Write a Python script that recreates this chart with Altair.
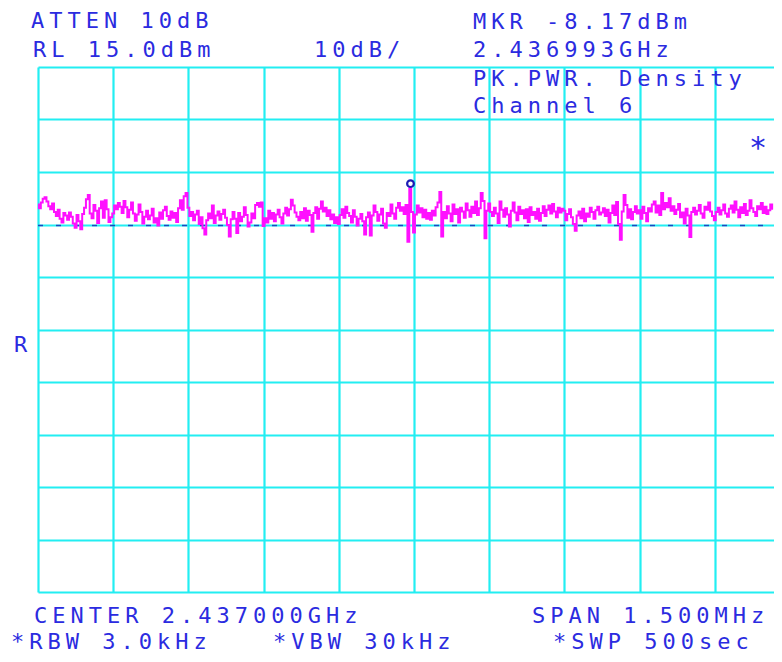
"""Spectrum analyser screen: PK.PWR. Density, channel 6."""

import altair as alt
import pandas as pd

CENTER_MHZ = 2437.0
SPAN_MHZ = 1.5
REF_LEVEL_DBM = 15.0
DB_PER_DIV = 10.0
N_DIV = 10
POINT_STEP_MHZ = 0.00375  # sweep point spacing (40 points per division)

# trace, one list per horizontal division (dBm)
trace_div0 = [-11.2, -11.9, -10.8, -10.1, -9.8, -10.6, -11.5, -12.1, -11.0, -12.6,
              -13.4, -12.2, -13.9, -14.6, -12.8, -13.3, -14.1, -12.7, -13.5, -14.8,
              -15.6, -13.2, -14.4, -15.9, -13.0, -11.8, -10.2, -9.4, -12.9, -13.8,
              -11.3, -12.4, -14.7, -11.9, -10.6, -13.7, -10.4, -12.1, -14.5, -13.6]
trace_div1 = [-12.9, -11.4, -12.1, -10.9, -11.6, -12.8, -10.5, -11.7, -13.6, -12.2,
              -10.8, -12.9, -14.3, -13.1, -11.2, -12.6, -14.8, -13.5, -12.4, -14.0,
              -13.3, -12.0, -14.6, -13.8, -15.2, -12.7, -13.9, -12.3, -11.6, -13.4,
              -14.1, -12.5, -13.7, -12.8, -14.5, -11.9, -10.4, -12.2, -9.6, -9.0]
trace_div2 = [-11.8, -13.4, -12.6, -14.2, -13.1, -12.4, -14.9, -13.6, -15.7, -16.9,
              -14.2, -12.9, -13.8, -11.4, -14.7, -13.3, -12.5, -14.1, -13.0, -12.2,
              -13.7, -15.1, -17.3, -14.0, -12.6, -13.9, -16.6, -12.8, -14.4, -13.5,
              -11.7, -13.2, -15.4, -14.6, -12.9, -13.8, -11.3, -10.9, -11.6, -10.8]
trace_div3 = [-15.3, -13.8, -14.6, -12.4, -13.9, -12.8, -14.4, -13.1, -12.2, -13.6,
              -14.8, -12.9, -11.8, -13.3, -12.1, -10.3, -11.4, -12.7, -13.5, -14.2,
              -12.6, -13.8, -11.9, -14.3, -12.4, -13.2, -16.4, -12.8, -11.7, -13.9,
              -12.0, -10.6, -12.5, -11.8, -13.4, -12.3, -14.0, -13.1, -14.7, -13.6]
trace_div4 = [-14.9, -13.2, -12.1, -13.7, -11.6, -12.8, -13.4, -14.6, -12.3, -13.5,
              -15.2, -13.9, -13.0, -14.4, -16.9, -13.6, -12.7, -17.1, -13.3, -11.4,
              -12.6, -14.3, -13.1, -12.0, -14.8, -15.6, -12.8, -13.4, -11.2, -12.9,
              -13.9, -11.8, -10.9, -12.4, -11.7, -13.0, -11.3, -18.3, -8.17, -12.6]
trace_div5 = [-16.5, -13.1, -11.4, -12.7, -11.9, -13.6, -12.2, -13.9, -12.8, -14.1,
              -12.4, -13.3, -11.7, -10.8, -8.8, -17.3, -12.6, -13.8, -11.5, -12.9,
              -14.4, -11.2, -13.0, -12.1, -14.6, -11.8, -12.5, -13.7, -11.0, -12.3,
              -13.5, -11.6, -12.8, -10.6, -13.2, -11.9, -9.0, -10.5, -17.6, -12.4]
trace_div6 = [-11.0, -12.6, -13.4, -11.8, -12.9, -14.7, -10.6, -12.2, -13.5, -11.9,
              -13.1, -15.4, -12.4, -10.8, -12.7, -14.2, -11.6, -13.0, -12.3, -13.8,
              -12.1, -14.5, -11.7, -13.2, -12.6, -13.9, -12.0, -14.3, -12.8, -11.5,
              -13.4, -12.2, -11.4, -12.9, -11.1, -12.5, -13.6, -11.8, -12.7, -12.0]
trace_div7 = [-12.4, -14.2, -13.0, -12.1, -13.6, -14.9, -16.2, -13.3, -12.5, -13.8,
              -12.0, -14.4, -12.9, -13.5, -11.8, -12.6, -13.9, -12.3, -11.6, -13.1,
              -12.7, -11.9, -13.4, -12.2, -14.6, -12.8, -11.4, -13.2, -10.7, -14.9,
              -17.9, -12.5, -9.4, -11.3, -13.7, -12.1, -14.0, -12.6, -11.5, -12.9]
trace_div8 = [-12.3, -13.9, -11.6, -12.8, -14.4, -11.9, -12.5, -11.2, -10.6, -12.7,
              -11.4, -13.2, -9.0, -12.1, -10.9, -11.7, -10.0, -12.4, -11.5, -13.0,
              -12.2, -11.1, -13.6, -12.7, -14.8, -12.0, -13.3, -17.4, -12.6, -11.8,
              -13.1, -12.4, -11.3, -12.9, -13.7, -11.6, -12.2, -10.8, -12.5, -13.4]
trace_div9 = [-14.2, -12.6, -11.8, -13.1, -12.3, -11.2, -12.9, -13.5, -12.0, -11.4,
              -12.7, -10.6, -12.2, -13.6, -11.7, -12.8, -11.1, -13.2, -12.4, -10.4,
              -11.9, -12.6, -13.4, -11.5, -12.1, -10.9, -12.8, -11.6, -13.0, -12.3,
              -11.2, -12.0]

floor_trace_dbm = [-15.2, -15.2]   # second (blue) trace sitting under the noise

marker_freq_mhz = 2436.993
marker_dbm = -8.17

screen_texts = [
    "ATTEN 10dB", "RL 15.0dBm", "10dB/",
    "MKR -8.17dBm", "2.436993GHz", "PK.PWR. Density", "Channel 6",
    "R",
    "CENTER 2.437000GHz", "SPAN 1.500MHz",
    "*RBW 3.0kHz", "*VBW 30kHz", "*SWP 500sec",
]

# ---- layout -------------------------------------------------------------
GRID = "#22eef2"
TRACE = "#ff10ff"
INK = "#2b2be0"
MARKER = "#1c1cb4"
FONT = "DejaVu Sans Mono"

PLOT_W, PLOT_H = 736, 525
LEFT, TOP = 38, 67            # page position of the graticule corner
PX_PER_DIV = 75.2
CHAR_PITCH = 18.25

# page position (left, baseline) of each screen text
text_pos = [
    (30, 28), (32, 57), (313, 57),
    (472, 29), (472, 57), (472, 86), (472, 113),
    (13, 352),
    (33, 623), (531, 623),
    (10, 649), (272, 649), (552, 649),
]

start = CENTER_MHZ - SPAN_MHZ / 2
div_mhz = SPAN_MHZ / N_DIV
x_dom = [start, start + div_mhz * PLOT_W / PX_PER_DIV]
y_dom = [REF_LEVEL_DBM - N_DIV * DB_PER_DIV, REF_LEVEL_DBM]

trace_dbm = (trace_div0 + trace_div1 + trace_div2 + trace_div3 + trace_div4
             + trace_div5 + trace_div6 + trace_div7 + trace_div8 + trace_div9)
trace_df = pd.DataFrame({
    "freq": [start + i * POINT_STEP_MHZ for i in range(len(trace_dbm))],
    "dbm": trace_dbm,
})
floor_df = pd.DataFrame({"freq": x_dom, "dbm": floor_trace_dbm})
marker_df = pd.DataFrame({"freq": [marker_freq_mhz], "dbm": [marker_dbm]})

rows = []
for text, (x0, base) in zip(screen_texts, text_pos):
    for j, ch in enumerate(text):
        if ch == " ":
            continue
        rows.append({
            "ch": ch,
            "px": x0 + 7.5 + j * CHAR_PITCH - LEFT,
            "py": base - TOP,
            "fs": 22,
        })
rows.append({"ch": "*", "px": 758 - LEFT, "py": 158 - TOP, "fs": 30})
text_df = pd.DataFrame(rows)

x_grid = [start + k * div_mhz for k in range(N_DIV)]
y_grid = [y_dom[0] + k * DB_PER_DIV for k in range(N_DIV + 1)]
grid_axis = dict(grid=True, gridColor=GRID, gridWidth=2.2, gridOpacity=1,
                 labels=False, ticks=False, domain=False, title=None)

x_enc = alt.X("freq:Q", scale=alt.Scale(domain=x_dom, nice=False, zero=False),
              axis=alt.Axis(values=x_grid, **grid_axis))
y_enc = alt.Y("dbm:Q", scale=alt.Scale(domain=y_dom, nice=False, zero=False),
              axis=alt.Axis(values=y_grid, **grid_axis))

floor = alt.Chart(floor_df).mark_line(
    color=MARKER, strokeWidth=1.6, strokeDash=[5, 13], opacity=0.8).encode(
    x=x_enc, y=y_enc)

trace = alt.Chart(trace_df).mark_line(
    color=TRACE, strokeWidth=2, interpolate="step").encode(x="freq:Q", y="dbm:Q")

marker = alt.Chart(marker_df).mark_point(
    shape="circle", filled=False, color=MARKER, size=45, strokeWidth=2.2,
    yOffset=-5, opacity=1).encode(x="freq:Q", y="dbm:Q")

graticule = alt.layer(floor, trace, marker)

screen = alt.Chart(text_df).mark_text(
    font=FONT, color=INK, align="center", baseline="alphabetic").encode(
    x=alt.X("px:Q", scale=None, axis=None),
    y=alt.Y("py:Q", scale=None, axis=None),
    size=alt.Size("fs:Q", scale=None, legend=None),
    text="ch:N",
)

chart = (
    alt.layer(graticule, screen)
    .resolve_scale(x="independent", y="independent", size="independent")
    .properties(
        width=PLOT_W, height=PLOT_H, autosize="none",
        padding={"left": LEFT - 8, "top": TOP - 8, "right": 0, "bottom": 62},
        background="white",
    )
    .configure_view(stroke=None)
)

chart.save("out.html", embed_options={"renderer": "svg", "actions": False})
